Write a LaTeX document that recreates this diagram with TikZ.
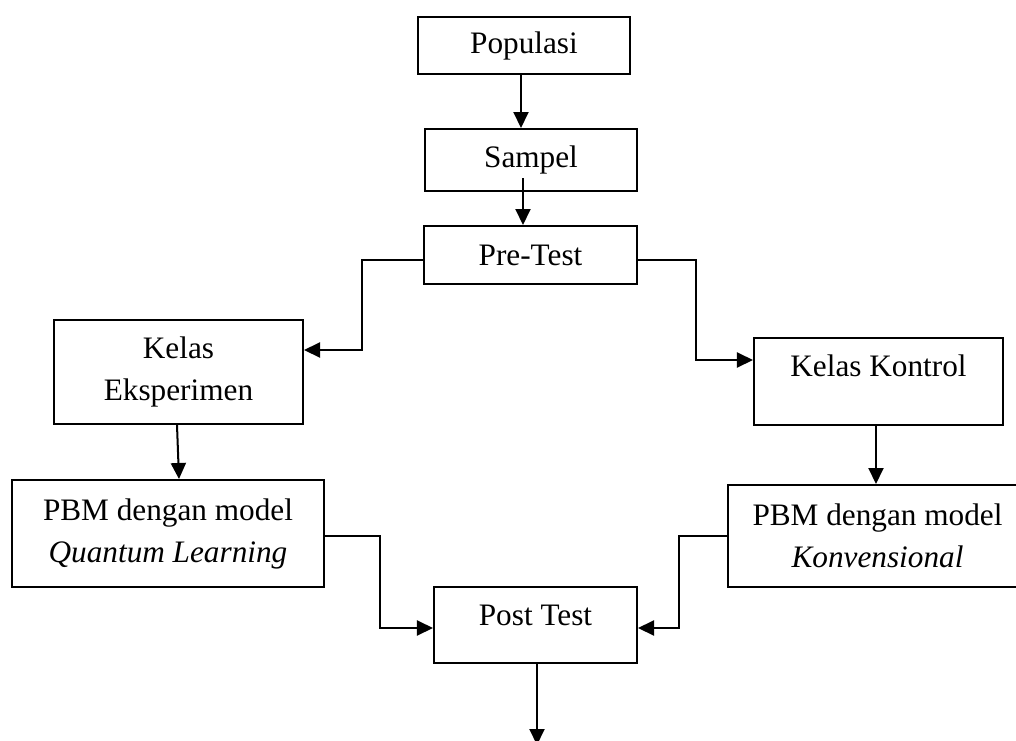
\documentclass[tikz,border=0pt]{standalone}
\usepackage{fontspec}
\setmainfont{Liberation Serif}
\usetikzlibrary{arrows.meta,calc}
\begin{document}
\begin{tikzpicture}[x=0.4pt,y=-0.4pt,
  box/.style={draw,line width=0.8pt,inner sep=0pt,align=center,font=\fontsize{12.5}{16.8}\selectfont},
  txt/.style={inner sep=0pt,align=center,font=\fontsize{12.5}{16.8}\selectfont},
  arr/.style={line width=0.8pt,-{Triangle[length=6.4pt,width=6pt]}},
  ln/.style={line width=0.8pt}]
\useasboundingbox (0,0) rectangle (1016,741);
\clip (0,0) rectangle (1016,741);
\node[box,minimum width=84.8pt,minimum height=22.8pt] (pop) at (524,45.5) {Populasi};
\node[box,minimum width=84.8pt,minimum height=24.8pt] (sam) at (531,160) {Sampel};
\node[box,minimum width=85.2pt,minimum height=23.2pt] (pre) at (530.5,255) {Pre-Test};
\node[box,minimum width=99.6pt,minimum height=41.6pt] (ke) at (178.5,372) {Kelas\\Eksperimen};
\node[box,minimum width=99.6pt,minimum height=34.8pt] (kk) at (878.5,381.5) {};
\node[txt] (kktext) at ($(kk.north)+(0,29)$) {Kelas Kontrol};
\node[box,minimum width=124.8pt,minimum height=42.8pt] (pq) at (168,533.5) {PBM dengan model\\\textit{Quantum Learning}};
\node[box,minimum width=119.6pt,minimum height=40.8pt] (pk) at (877.5,536) {PBM dengan model\\\textit{Konvensional}};
\node[box,minimum width=81.2pt,minimum height=30.4pt] (post) at (535.5,625) {};
\node[txt] (posttext) at ($(post)+(0,-10)$) {Post Test};
\coordinate (end) at (537,745);

\draw[arr] ($(pop.south)+(-3,0)$) -- ($(sam.north)+(-10,0)$);
\draw[arr] ($(sam.south)+(-8,-14)$) -- ($(pre.north)+(-7.5,0)$);
\draw[arr] ($(pre.west)+(0,5)$) -- ++(-61,0) |- ($(ke.east)+(0,-22)$);
\draw[arr] ($(pre.east)+(0,5)$) -- ++(58,0) |- ($(kk.west)+(0,-21.5)$);
\draw[arr] ($(ke.south)+(-1.5,0)$) -- ($(pq.north)+(11,0)$);
\draw[arr] ($(kk.south)+(-2.5,0)$) -- ($(pk.north)+(-1.5,0)$);
\draw[arr] ($(pq.east)+(0,2.5)$) -- ++(55,0) |- ($(post.west)+(0,3)$);
\draw[arr] (pk.west) -- ++(-48,0) |- ($(post.east)+(0,3)$);
\draw[arr] ($(post.south)+(1.5,0)$) -- (end);
\end{tikzpicture}
\end{document}
